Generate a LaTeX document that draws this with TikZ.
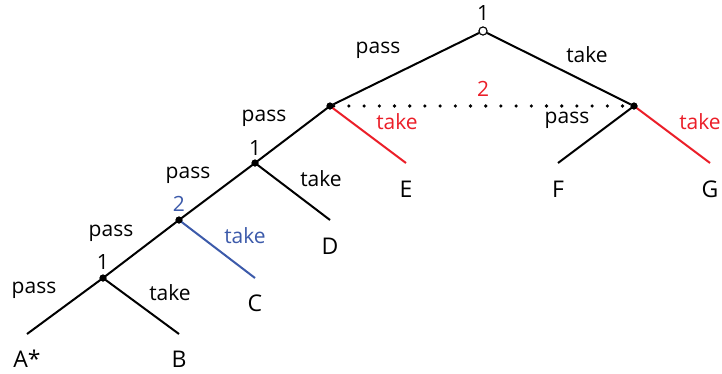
\documentclass[tikz,border=0pt]{standalone}
\usepackage{fontspec}
\setmainfont{Open Sans}
\definecolor{myred}{RGB}{235,30,40}
\definecolor{myblue}{RGB}{60,90,170}
\begin{document}
\begin{tikzpicture}[x=1pt,y=-1pt,
  edge/.style={line width=2pt},
  dec/.style={circle,fill=black,inner sep=0pt,minimum size=7pt},
  root/.style={circle,draw=black,fill=white,line width=1pt,inner sep=0pt,minimum size=8pt},
  lab/.style={font=\fontsize{21}{25}\selectfont,inner sep=0pt},
  term/.style={font=\fontsize{23}{27}\selectfont,inner sep=0pt},
  iset/.style={line width=3.6pt,line cap=round,dash pattern=on 0pt off 15.2pt}
]
\useasboundingbox (0,0) rectangle (722,373);
% nodes
\node[root] (r) at (483,31) {};
\node[dec] (n1) at (330,106) {};
\node[dec] (n2) at (634,106) {};
\node[dec] (n3) at (255,163) {};
\node[dec] (n4) at (179,220) {};
\node[dec] (n5) at (103,278) {};
\coordinate (e) at (406,163);
\coordinate (f) at (558,163);
\coordinate (g) at (710,163);
\coordinate (d) at (330,220);
\coordinate (c) at (255,278);
\coordinate (a) at (27,334);
\coordinate (b) at (179,334);
% edges
\draw[iset] (n1) -- (n2);
\draw[edge] (r) -- (n1);
\draw[edge] (r) -- (n2);
\draw[edge] (n1.center) -- (n3.center);
\draw[edge,myred] (n1.center) -- (e);
\draw[edge] (n2.center) -- (f);
\draw[edge,myred] (n2.center) -- (g);
\draw[edge] (n3.center) -- (n4.center);
\draw[edge] (n3.center) -- (d);
\draw[edge] (n4.center) -- (n5.center);
\draw[edge,myblue] (n4.center) -- (c);
\draw[edge] (n5.center) -- (a);
\draw[edge] (n5.center) -- (b);
\node[dec] at (n1) {};
\node[dec] at (n2) {};
\node[dec] at (n3) {};
\node[dec] at (n4) {};
\node[dec] at (n5) {};
\node[root] at (r) {};
% player labels
\node[lab] (p0) at (483,13) {1};
\node[lab,myred] (p1) at (483,89) {2};
\node[lab] (p3) at (255,148) {1};
\node[lab,myblue] (p4) at (179,204) {2};
\node[lab] (p5) at (103,262) {1};
% action labels
\node[lab] (l1) at (378,50) {pass};
\node[lab] (l2) at (587,55) {take};
\node[lab,myred] (l3) at (397,122) {take};
\node[lab] (l4) at (567,120) {pass};
\node[lab,myred] (l5) at (700,122) {take};
\node[lab] (l6) at (264,118) {pass};
\node[lab] (l7) at (321,179) {take};
\node[lab] (l8) at (188,175) {pass};
\node[lab,myblue] (l9) at (245,236) {take};
\node[lab] (l10) at (111,233) {pass};
\node[lab] (l11) at (170,293) {take};
\node[lab] (l12) at (34,290) {pass};
% outcomes
\node[term] (te) at (406,189) {E};
\node[term] (tf) at (558,189) {F};
\node[term] (tg) at (710,189) {G};
\node[term] (td) at (330,246) {D};
\node[term] (tc) at (255,303) {C};
\node[term] (ta) at (27,359) {A*};
\node[term] (tb) at (179,359) {B};
\end{tikzpicture}
\end{document}
